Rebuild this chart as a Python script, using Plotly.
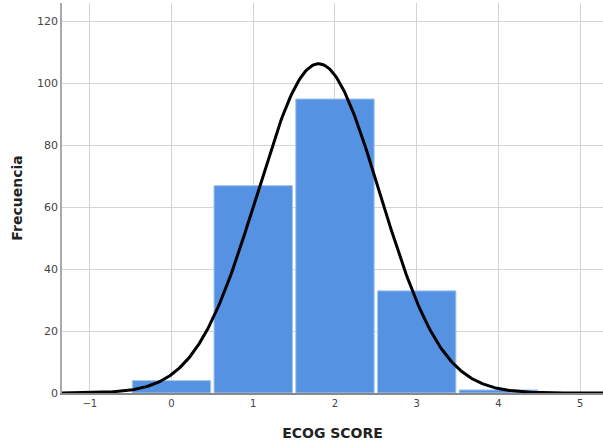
import numpy as np
import plotly.graph_objects as go

categories = [0, 1, 2, 3, 4]
counts = [4, 67, 95, 33, 1]
x_ticks = [-1, 0, 1, 2, 3, 4, 5]
y_ticks = [0, 20, 40, 60, 80, 100, 120]

# Normal curve fitted to the histogram data (mean/sd of the observations)
vals = np.repeat(categories, counts)
n = len(vals)
mu = vals.mean()
sd = vals.std(ddof=1)
xs = np.linspace(-1.34, 5.3, 400)
ys = n * 1.0 / (sd * np.sqrt(2 * np.pi)) * np.exp(-0.5 * ((xs - mu) / sd) ** 2)

fig = go.Figure()
fig.add_trace(go.Bar(
    x=categories, y=counts, width=0.96,
    marker=dict(color="#5592e2", line=dict(color="#a9c8f0", width=1)),
    hoverinfo="skip"))
fig.add_trace(go.Scatter(x=xs, y=ys, mode="lines",
                         line=dict(color="black", width=3), hoverinfo="skip"))

fig.update_layout(
    width=603, height=448,
    margin=dict(l=62, r=0, t=3, b=55),
    plot_bgcolor="white", paper_bgcolor="white",
    showlegend=False,
    font=dict(family="DejaVu Sans", color="#333"),
    xaxis=dict(range=[-1.34, 5.28], tickvals=x_ticks, ticktext=["−1" if v == -1 else str(v) for v in x_ticks],
               showgrid=True, gridcolor="#d4d4d4", gridwidth=1, zeroline=False,
               showline=True, linecolor="#888", linewidth=1.5,
               tickfont=dict(size=10, color="#444"), ticks="", ticklen=0,
               title=dict(text="<b>ECOG SCORE</b>", font=dict(size=14, color="#222"), standoff=20)),
    yaxis=dict(range=[0, 126], tickvals=y_ticks,
               showgrid=True, gridcolor="#d4d4d4", gridwidth=1, zeroline=False,
               showline=True, linecolor="#aaa", linewidth=1.5,
               tickfont=dict(size=11, color="#444"), ticks="",
               title=dict(text="<b>Frecuencia</b>", font=dict(size=14, color="#222"), standoff=11)),
)
fig.write_html("out.html")
